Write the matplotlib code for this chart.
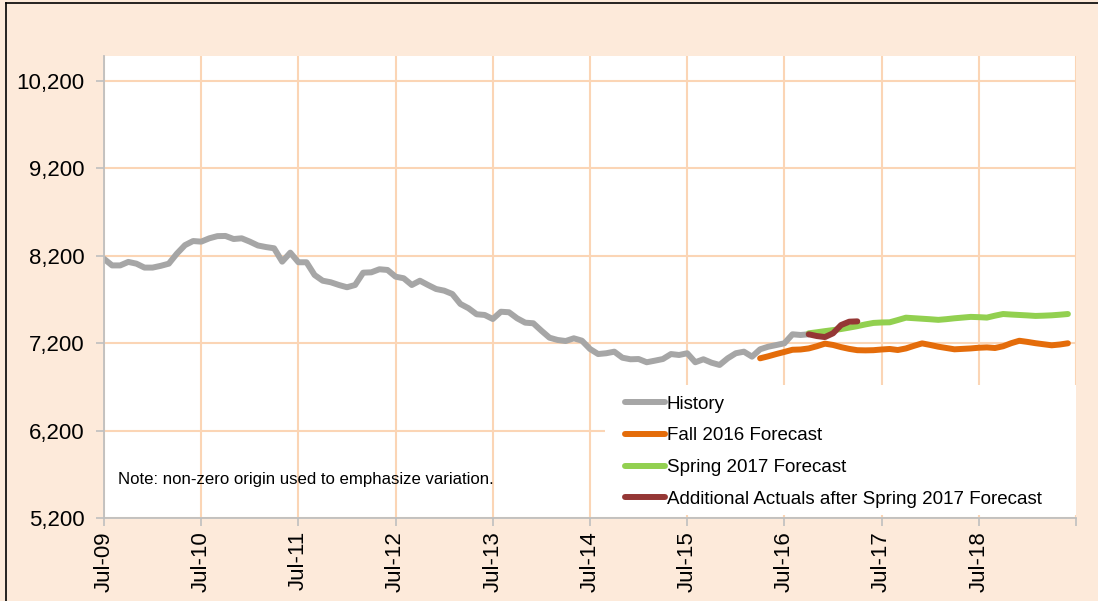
import matplotlib
matplotlib.use("Agg")
import matplotlib.pyplot as plt
from matplotlib.lines import Line2D
from matplotlib.patches import Rectangle
import numpy as np

plt.rcParams['font.family'] = ['Liberation Sans', 'DejaVu Sans']

# Month index: 0 = Jul-2009
tick_labels = ["Jul-09", "Jul-10", "Jul-11", "Jul-12", "Jul-13", "Jul-14",
               "Jul-15", "Jul-16", "Jul-17", "Jul-18", ""]
y_ticks = [5200, 6200, 7200, 8200, 9200, 10200]

history_start = 0
history = [8165, 8090, 8090, 8130, 8110, 8065, 8065, 8085, 8110, 8225,
           8322, 8369, 8362, 8400, 8425, 8427, 8392, 8400, 8362, 8318,
           8300, 8286, 8133, 8236, 8126, 8126, 7980, 7915, 7897, 7866,
           7840, 7866, 8007, 8011, 8046, 8038, 7961, 7943, 7866, 7915,
           7866, 7820, 7801, 7763, 7649, 7600, 7531, 7523, 7477, 7560,
           7554, 7485, 7435, 7428, 7343, 7263, 7237, 7225, 7256, 7229,
           7134, 7076, 7085, 7103, 7034, 7016, 7019, 6982, 7000, 7019,
           7076, 7065, 7085, 6982, 7016, 6977, 6951, 7027, 7085, 7103,
           7046, 7130, 7160, 7179, 7199, 7302, 7294, 7302]

fall2016_start = 81
fall2016 = [7027, 7050, 7076, 7100, 7125, 7128, 7140, 7165, 7195, 7180,
            7155, 7135, 7120, 7118, 7120, 7128, 7134, 7122, 7140, 7170,
            7198, 7180, 7160, 7145, 7130, 7135, 7140, 7148, 7152, 7145,
            7165, 7200, 7228, 7215, 7200, 7188, 7176, 7185, 7199]

spring2017_start = 87
spring2017 = [7313, 7325, 7338, 7350, 7362, 7378, 7395, 7415, 7432, 7437,
              7439, 7465, 7492, 7486, 7480, 7474, 7467, 7475, 7485, 7493,
              7501, 7498, 7493, 7515, 7534, 7528, 7523, 7518, 7512, 7515,
              7519, 7526, 7534]

actuals_start = 87
actuals = [7302, 7282, 7270, 7313, 7408, 7446, 7450]

BG = "#FDEADA"
GRID = "#FBD5B5"
AXC = "#BFBFBF"

fig = plt.figure(figsize=(10.98, 6.01), dpi=100, facecolor=BG)
ax = fig.add_axes([104/1098, 1 - 518/601, (1076-104)/1098, (518-56)/601])
ax.set_facecolor("white")

def xs(start, vals):
    return np.arange(start, start + len(vals))

lw = 4.3
kw = dict(lw=lw, solid_capstyle="round", solid_joinstyle="round")
ax.plot(xs(history_start, history), history, color="#A6A6A6",
        label="History", zorder=3, **kw)
ax.plot(xs(fall2016_start, fall2016), fall2016, color="#E46C0A",
        label="Fall 2016 Forecast", zorder=3, **kw)
ax.plot(xs(spring2017_start, spring2017), spring2017, color="#92D050",
        label="Spring 2017 Forecast", zorder=3, **kw)
ax.plot(xs(actuals_start, actuals), actuals, color="#953735",
        label="Additional Actuals after Spring 2017 Forecast", zorder=4, **kw)

ax.set_xlim(0, 120)
ax.set_ylim(5200, 10486)
ax.set_xticks(np.arange(0, 121, 12))
ax.set_xticklabels(tick_labels, rotation=90, fontsize=16)
ax.set_yticks(y_ticks)
ax.set_yticklabels([f"{v:,}" for v in y_ticks], fontsize=16)

ax.set_axisbelow(True)
ax.grid(True, color=GRID, lw=1.5)
ax.tick_params(axis="both", direction="out", length=5.5, width=1.2, color=AXC)
ax.tick_params(axis="y", pad=8.5)
ax.tick_params(axis="x", pad=4)

for s in ["top", "right"]:
    ax.spines[s].set_visible(False)
for s in ["left", "bottom"]:
    ax.spines[s].set_color(AXC)
    ax.spines[s].set_linewidth(1.3)
    ax.spines[s].set_zorder(5)

# white legend backdrop
ax.add_patch(Rectangle((0.515, 0.006), 0.485, 0.282, transform=ax.transAxes,
                       facecolor="white", edgecolor="none", zorder=2))

leg = ax.legend(loc="upper left", bbox_to_anchor=(0.536, 0.265), frameon=False,
                fontsize=13.5, handlelength=2.13, handletextpad=0.1,
                labelspacing=0.78, borderaxespad=0, borderpad=0)
leg.set_zorder(6)

ax.text(0.0144, 0.0844, "Note: non-zero origin used to emphasize variation.",
        transform=ax.transAxes, fontsize=12.1, va="center", ha="left", zorder=6)

# outer border (left & top)
fig.add_artist(Line2D([5.5/1098, 5.5/1098], [0, 1 - 2.5/601], transform=fig.transFigure,
                      color="black", lw=1.2))
fig.add_artist(Line2D([5.5/1098, 1], [1 - 2.5/601, 1 - 2.5/601], transform=fig.transFigure,
                      color="black", lw=1.2))

fig.savefig("out.png", dpi=100, facecolor=BG)
